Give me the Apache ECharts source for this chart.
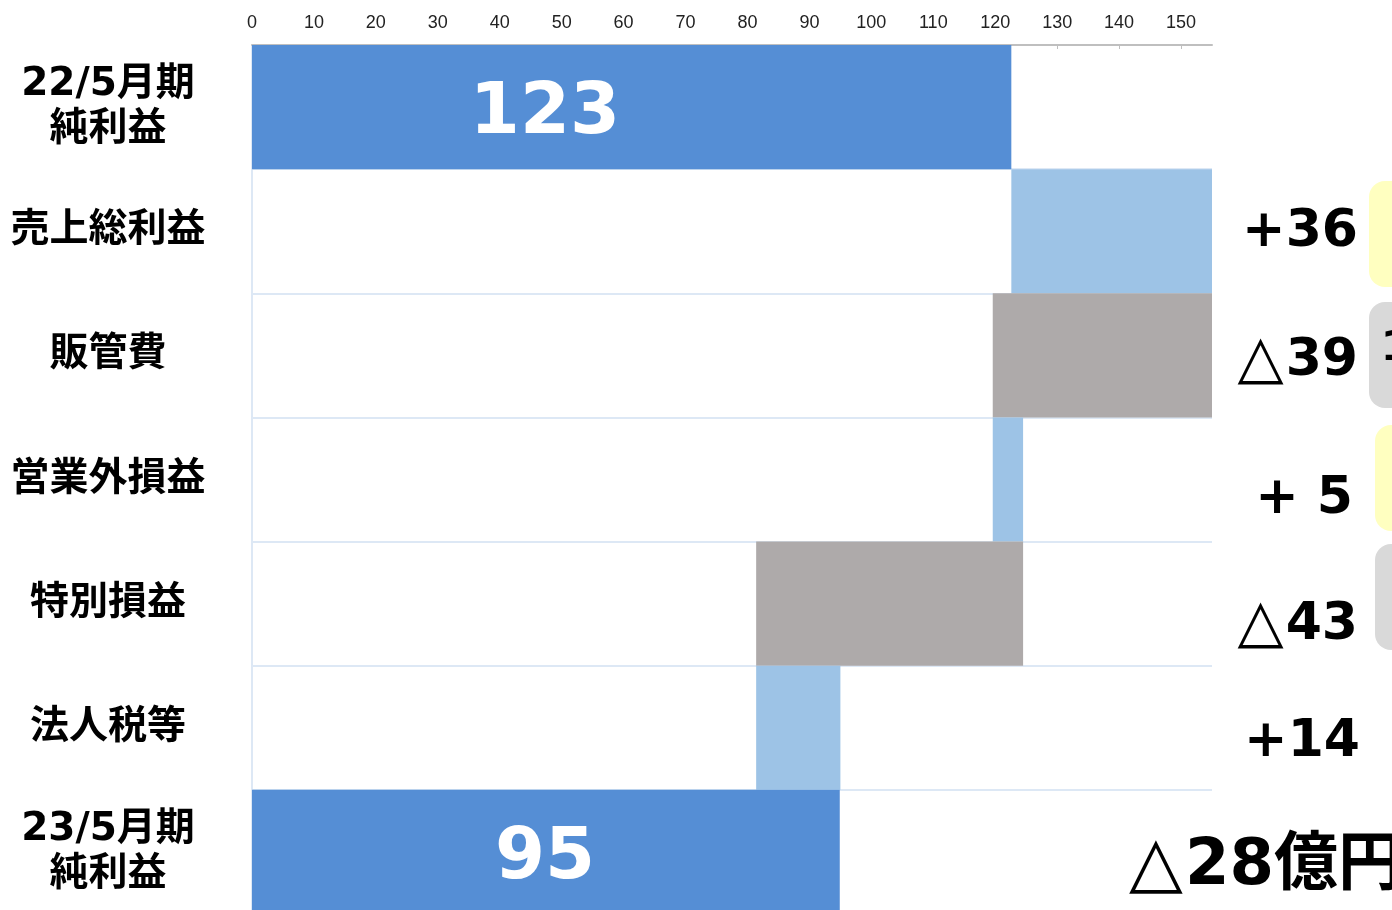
<!DOCTYPE html>
<html><head><meta charset="utf-8">
<script src="https://cdn.jsdelivr.net/npm/echarts@6/dist/echarts.min.js"></script>
<style>html,body{margin:0;padding:0;background:#fff;overflow:hidden}#c{width:1392px;height:910px}</style>
</head><body><div id="c"></div>
<script>
// ---- data ----
const categories = ['22/5月期\n純利益', '売上総利益', '販管費', '営業外損益', '特別損益', '法人税等', '23/5月期\n純利益'];
const startValue = 122.6;
const deltas = [36.0, -39.0, 4.9, -43.1, 13.6];
const endValue = 94.9;
const endLabels = ['123', '95'];
const deltaLabels = ['', '+36', '△39', '+ 5', '△43', '+14', '△28億円'];

// ---- build waterfall ----
const COL_TOTAL = '#558ed5', COL_UP = '#9dc3e6', COL_DOWN = '#aeaaaa';
const base = [0], vis = [{ value: startValue, itemStyle: { color: COL_TOTAL }, label: { show: true, formatter: endLabels[0] } }];
let run = startValue;
deltas.forEach(d => {
  if (d >= 0) { base.push(run); vis.push({ value: d, itemStyle: { color: COL_UP } }); run += d; }
  else { run += d; base.push(run); vis.push({ value: -d, itemStyle: { color: COL_DOWN } }); }
});
base.push(0);
vis.push({ value: endValue, itemStyle: { color: COL_TOTAL }, label: { show: true, formatter: endLabels[1] } });

// right-side label styles
const sizes = [52, 52, 52, 52, 52, 52, 64];
const triSizes = [60, 60, 60, 60, 60, 60, 70];
const offs = [0, 1.5, 6, 20, 21.5, 15, 15];
const rpad = [44, 44, 44, 49, 44, 42, 0];
const rich = {};
for (let i = 0; i < deltaLabels.length; i++) {
  rich['t' + i] = { fontFamily: 'DejaVu Sans', fontWeight: 'normal', fontSize: triSizes[i], color: '#000', padding: [2 * offs[i], 2, 0, 0] };
  rich['n' + i] = { fontFamily: "'DejaVu Sans','Noto Sans CJK JP'", fontWeight: 'bold', fontSize: sizes[i], color: '#000', padding: [2 * offs[i], rpad[i], 0, 0] };
}

const chart = echarts.init(document.getElementById('c'), null, { renderer: 'canvas' });
chart.setOption({
  animation: false,
  backgroundColor: '#fff',
  grid: { left: 252, top: 45, width: 960, height: 869, containLabel: false, outerBoundsMode: 'none' },
  xAxis: {
    type: 'value', position: 'top', min: 0, max: 155, interval: 10,
    axisLine: { show: true, lineStyle: { color: '#bfbfbf', width: 2 } },
    axisTick: { show: true, inside: true, length: 4, lineStyle: { color: '#bfbfbf' } },
    splitLine: { show: false },
    axisLabel: { fontSize: 18, color: '#222', margin: 13, fontFamily: 'Liberation Sans', showMaxLabel: false }
  },
  yAxis: [{
    type: 'category', inverse: true, data: categories,
    axisLine: { show: true, lineStyle: { color: '#dde8f5', width: 2 } },
    axisTick: { show: false },
    splitLine: { show: true, lineStyle: { color: '#dde8f5', width: 2 } },
    axisLabel: { margin: 144, align: 'center', fontSize: 39, fontWeight: 'bold', color: '#000', lineHeight: 45,
      padding: [6, 0, 0, 0], fontFamily: "'DejaVu Sans','Noto Sans CJK JP'" }
  }, {
    type: 'category', inverse: true, position: 'right', data: deltaLabels,
    axisLine: { show: false }, axisTick: { show: false }, splitLine: { show: false },
    axisLabel: {
      margin: 190, align: 'right', rich: rich,
      formatter: (v, i) => {
        if (!v) return '';
        const tri = v.charAt(0) === '△';
        return (tri ? '{t' + i + '|△}' : '') + '{n' + i + '|' + (tri ? v.slice(1) : v) + '}';
      }
    }
  }],
  series: [{
    type: 'bar', stack: 'w', data: base, barCategoryGap: '0%', silent: true,
    itemStyle: { color: 'rgba(0,0,0,0)' }
  }, {
    type: 'bar', stack: 'w', data: vis, barCategoryGap: '0%',
    label: { show: false, position: [293, '50%'], offset: [0, 7], align: 'center', verticalAlign: 'middle',
      color: '#fff', fontSize: 72, fontWeight: 'bold', fontFamily: 'DejaVu Sans' }
  }],
  graphic: [
    { type: 'rect', shape: { x: 1369, y: 181, width: 60, height: 106, r: 16 }, style: { fill: '#ffffc0' } },
    { type: 'rect', shape: { x: 1369, y: 302, width: 60, height: 106, r: 16 }, style: { fill: '#d9d9d9' } },
    { type: 'text', x: 1381, y: 330, style: { text: '1', fontSize: 40, fontWeight: 'bold', fontFamily: 'DejaVu Sans', fill: '#000' } },
    { type: 'rect', shape: { x: 1375, y: 425, width: 60, height: 106, r: 16 }, style: { fill: '#ffffc0' } },
    { type: 'rect', shape: { x: 1375, y: 544, width: 60, height: 106, r: 16 }, style: { fill: '#d9d9d9' } }
  ]
});
</script>
</body></html>
